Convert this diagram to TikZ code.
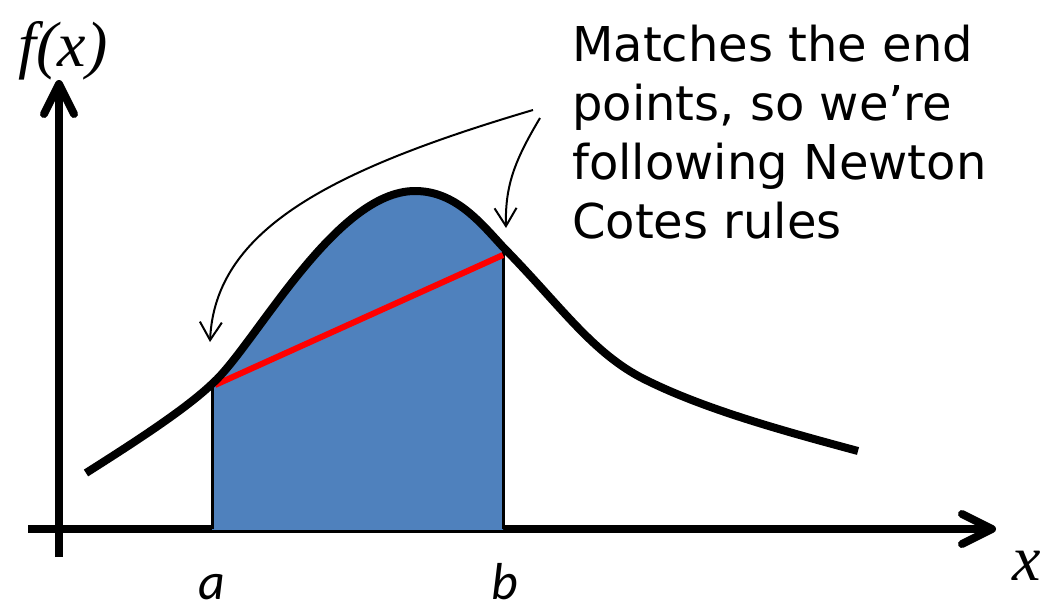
\documentclass[tikz,border=0pt]{standalone}
\usepackage{fontspec}
\usepackage{tikz}
\usetikzlibrary{arrows.meta, positioning, calc}
\newfontfamily\notefont{DejaVu Sans}
\newfontfamily\labfont{Carlito}
\newfontfamily\axfont{Liberation Serif}
\definecolor{areablue}{RGB}{79,129,189}

\begin{document}
\begin{tikzpicture}[x=1pt, y=-1pt,
  axis/.style={line width=8pt, -{Straight Barb[length=30pt, width=30pt, round]}},
  bell/.style={insert path={(86,473) .. controls (130,445) and (185,410) .. (213,383)
      .. controls (255,345) and (335,191) .. (415,191)
      .. controls (455,191) and (480,222) .. (503,247)
      .. controls (560,305) and (590,350) .. (640,377)
      .. controls (700,408) and (780,430) .. (858,451)}},
  callout/.style={line width=2pt, -{Straight Barb[length=18pt, width=22pt]}},
  axlabel/.style={font=\axfont\itshape\fontsize{64}{64}\selectfont, anchor=base},
  endlabel/.style={font=\labfont\itshape\fontsize{52}{52}\selectfont, anchor=base,
      inner sep=0pt, text depth=0pt}]
\useasboundingbox (0,0) rectangle (1059,613);

% axes
\coordinate (ybot) at (59,557);
\coordinate (ytop) at (59,80);
\coordinate (xleft) at (28,529);
\coordinate (xright) at (996,529);
\draw[axis] (ybot) -- (ytop);
\draw[axis] (xleft) -- (xright);

% area under f between a and b
\begin{scope}
  \clip (212,0) rectangle (503,529);
  \fill[areablue, bell] -- (858,700) -- (86,700) -- cycle;
\end{scope}
\coordinate (aBase) at (212,529);
\coordinate (aTop) at (212,384);
\coordinate (bBase) at (503,529);
\coordinate (bTop) at (503,247);
\draw[line width=3pt] (aBase) -- (aTop);
\draw[line width=3pt] (bBase) -- (bTop);

% trapezoid chord
\coordinate (pa) at (215,385);
\coordinate (pb) at (503,255);
\draw[red, line width=6pt] (pa) -- (pb);

\draw[line width=8pt, line join=round, bell];

\node[axlabel] (fx) at (63,66) {f(x)};
\node[axlabel] (xlab) at (1027,580) {x};
\node[endlabel] (alab) at (212,599) {a};
\node[endlabel] (blab) at (505,599) {b};

\node[font=\notefont\fontsize{48}{59}\selectfont, anchor=base west, align=left, inner sep=0pt]
  (note) at (572,238) {Matches the end\\points, so we’re\\following Newton\\Cotes rules};

\coordinate (c1) at (533,110);
\coordinate (tipA) at (210,342);
\coordinate (c2) at (540,118);
\coordinate (tipB) at (506,228);
\draw[callout] (c1) .. controls (330,170) and (215,230) .. (tipA);
\draw[callout] (c2) .. controls (515,160) and (505,185) .. (tipB);
\end{tikzpicture}
\end{document}
